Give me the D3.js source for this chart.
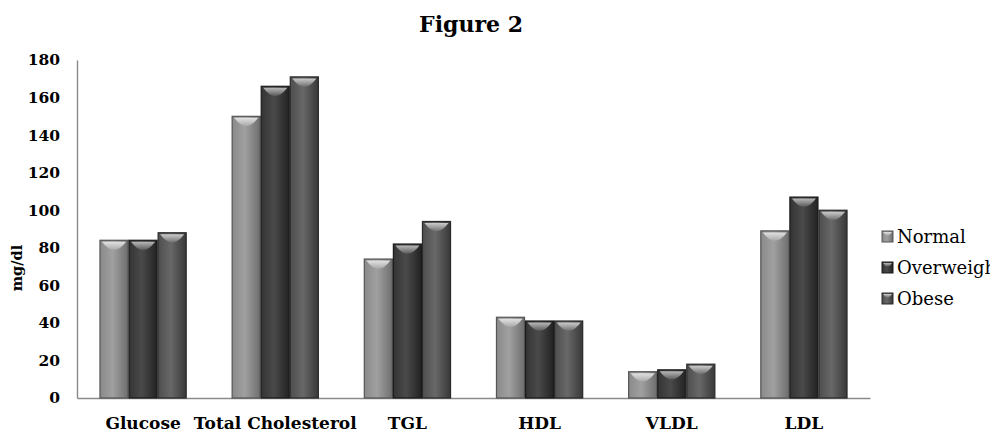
<!DOCTYPE html>
<html><head><meta charset="utf-8">
<script src="https://cdn.jsdelivr.net/npm/d3@7"></script>
<style>body{margin:0;background:#fff;overflow:hidden}svg{display:block}</style>
</head><body><svg id="c" width="990" height="437"></svg>
<script>
const categories = ["Glucose","Total Cholesterol","TGL","HDL","VLDL","LDL"];
const seriesNames = ["Normal","Overweight","Obese"];
const normal = [84, 150, 74, 43, 14, 89];
const overweight = [84, 166, 82, 41, 15, 107];
const obese = [88, 171, 94, 41, 18, 100];
const yTicks = [0,20,40,60,80,100,120,140,160,180];
const seriesValues = [normal, overweight, obese];

const svg = d3.select("#c");
const serif = "'DejaVu Serif', serif";
const x0 = d3.scaleBand().domain(categories).range([77, 870]).paddingInner(0.34).paddingOuter(0.17);
const x1 = d3.scaleBand().domain(seriesNames).range([0, x0.bandwidth()]);
const y = d3.scaleLinear().domain([0,180]).range([398, 60]);

const pal = [
  {l:"#8a8a8a", m:"#a0a0a0", r:"#6e6e6e", cap:"#e2e2e2", capb:"#a8a8a8", edge:"#555"},
  {l:"#343434", m:"#4a4a4a", r:"#222222", cap:"#b8b8b8", capb:"#5a5a5a", edge:"#1a1a1a"},
  {l:"#4e4e4e", m:"#686868", r:"#383838", cap:"#cccccc", capb:"#707070", edge:"#2a2a2a"}
];
const defs = svg.append("defs");
pal.forEach((p,i)=>{
  const g = defs.append("linearGradient").attr("id","g"+i).attr("x1","0").attr("x2","1").attr("y1","0").attr("y2","0");
  g.append("stop").attr("offset","0").attr("stop-color",p.l);
  g.append("stop").attr("offset","0.45").attr("stop-color",p.m);
  g.append("stop").attr("offset","1").attr("stop-color",p.r);
  const c = defs.append("linearGradient").attr("id","cap"+i).attr("x1","0").attr("x2","0").attr("y1","0").attr("y2","1");
  c.append("stop").attr("offset","0").attr("stop-color",p.cap);
  c.append("stop").attr("offset","1").attr("stop-color",p.capb);
});

// title
svg.append("text").attr("x",471).attr("y",32).attr("text-anchor","middle")
  .attr("font-family",serif).attr("font-weight","bold").attr("font-size",22).attr("fill","#000").text("Figure 2");

// axes
const yAxis = svg.append("g").attr("transform","translate(77,0)")
  .call(d3.axisLeft(y).tickValues(yTicks).tickSize(0).tickPadding(17));
yAxis.select(".domain").attr("stroke","#8a8a8a").attr("stroke-width",1.4);
yAxis.selectAll("text").attr("font-family",serif).attr("font-weight","bold").attr("font-size",15.5).attr("fill","#000");

const xAxis = svg.append("g").attr("transform","translate(0,398)")
  .call(d3.axisBottom(x0).tickSize(0).tickPadding(19).tickSizeOuter(0));
xAxis.select(".domain").attr("stroke","#8a8a8a").attr("stroke-width",1.4);
xAxis.selectAll("text").attr("font-family",serif).attr("font-weight","bold").attr("font-size",17).attr("fill","#000");

svg.append("text").attr("transform","translate(22,268) rotate(-90)").attr("text-anchor","middle")
  .attr("font-family",serif).attr("font-weight","bold").attr("font-size",14.5).attr("fill","#000").text("mg/dl");

// bars
const groups = svg.append("g").selectAll("g").data(categories).join("g")
  .attr("transform", d=>`translate(${x0(d)},0)`);
groups.each(function(cat, ci){
  const g = d3.select(this);
  seriesNames.forEach((s, si)=>{
    const v = seriesValues[si][ci];
    const bx = x1(s), bw = x1.bandwidth(), top = y(v);
    g.append("rect").attr("x",bx+0.5).attr("y",top).attr("width",bw-1).attr("height",y(0)-top)
      .attr("fill",`url(#g${si})`).attr("stroke",pal[si].edge).attr("stroke-width",1.2);
    g.append("path")
      .attr("d",`M${bx+2.5},${top+1.5} Q${bx+bw/2},${top+18} ${bx+bw-2.5},${top+1.5} Z`)
      .attr("fill",`url(#cap${si})`);
  });
});

// legend
const leg = svg.append("g");
seriesNames.forEach((s,i)=>{
  const ly = 237 + i*31;
  leg.append("rect").attr("x",882).attr("y",ly-6).attr("width",11).attr("height",11)
    .attr("fill",`url(#g${i})`).attr("stroke",pal[i].edge);
  leg.append("path").attr("d",`M883,${ly-5} Q887.5,${ly+2} 892,${ly-5} Z`).attr("fill",`url(#cap${i})`);
  leg.append("text").attr("x",897).attr("y",ly).attr("dy","0.35em")
    .attr("font-family",serif).attr("font-size",18).attr("fill","#000").text(s);
});
</script></body></html>
